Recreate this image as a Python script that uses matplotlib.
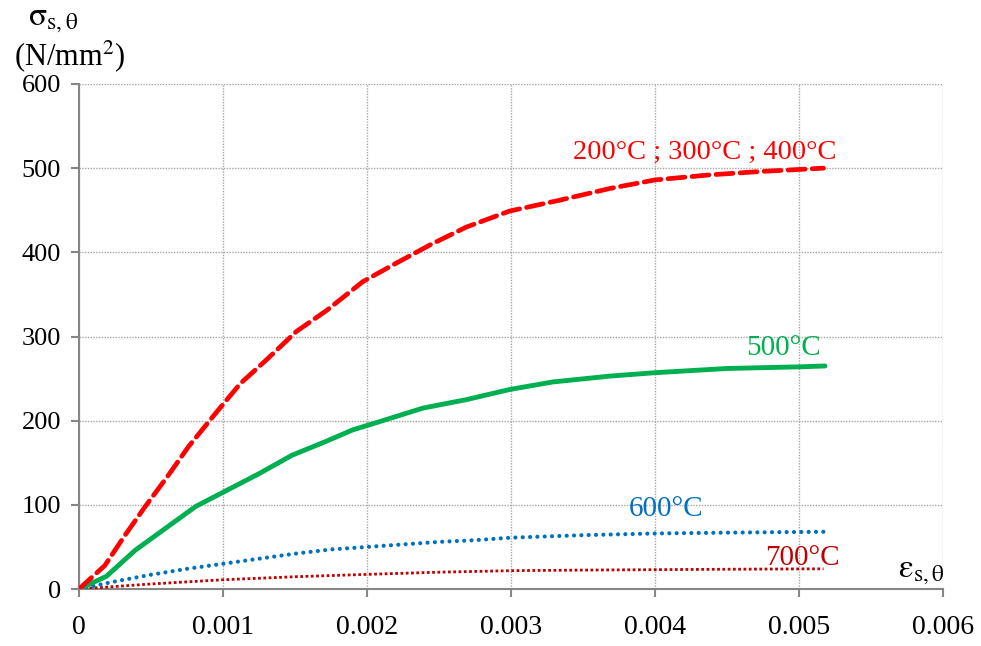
import matplotlib
matplotlib.use("Agg")
import matplotlib.pyplot as plt

# ---- data ----
strain_200_400 = [0, 0.00018, 0.00032, 0.00046, 0.00062, 0.00076, 0.00095, 0.00112, 0.0013,
                  0.00151, 0.00172, 0.00197, 0.00218, 0.00244, 0.00269, 0.00299, 0.00334,
                  0.00369, 0.004, 0.00438, 0.00473, 0.00517]
stress_200_400 = [0, 28, 64, 98, 135, 169, 209, 244, 272, 306, 331, 365, 385, 409, 430, 449,
                  462, 476, 486, 492, 496, 500]

strain_500 = [0, 0.00019, 0.00039, 0.0006, 0.00081, 0.00099, 0.00125, 0.00148, 0.00171,
              0.0019, 0.00209, 0.00239, 0.00269, 0.00299, 0.00329, 0.00369, 0.004, 0.0045,
              0.00501, 0.00518]
stress_500 = [0, 15, 46, 72, 98, 114, 137, 159, 175, 189, 199, 215, 225, 237, 246, 253, 257,
              262, 264, 265]

strain_600 = [0, 0.00025, 0.0005, 0.00075, 0.001, 0.00125, 0.0015, 0.00175, 0.002, 0.00225,
              0.0025, 0.00275, 0.003, 0.0035, 0.004, 0.0045, 0.00517]
stress_600 = [0, 9, 17, 24, 30, 36, 42, 47, 50, 53, 56, 58, 61, 64, 66, 67, 68]

strain_700 = [0, 0.0005, 0.001, 0.0015, 0.002, 0.0025, 0.003, 0.0035, 0.004, 0.0045, 0.00517]
stress_700 = [0, 6, 11, 14.6, 17.4, 20, 21.8, 22.5, 23, 23.5, 24]

x_ticks = [0, 0.001, 0.002, 0.003, 0.004, 0.005, 0.006]
x_tick_labels = ["0", "0.001", "0.002", "0.003", "0.004", "0.005", "0.006"]
y_ticks = [0, 100, 200, 300, 400, 500, 600]

labels = ["200°C ; 300°C ; 400°C", "500°C", "600°C", "700°C"]

# ---- figure ----
plt.rcParams['font.family'] = ['Liberation Serif', 'DejaVu Serif']
plt.rcParams['mathtext.fontset'] = 'stix'
plt.rcParams['mathtext.default'] = 'rm'

fig = plt.figure(figsize=(9.81, 6.46), dpi=100)
ax = fig.add_axes([0.0805, 0.0882, 0.8808, 0.7818])

ax.plot(strain_700, stress_700, color='#C00000', lw=2.0, linestyle=(0, (1.0, 0.9)),
        solid_capstyle='butt', dash_capstyle='butt', zorder=3)
ax.plot(strain_600, stress_600, color='#0070C0', lw=3.0, linestyle=(0, (0.01, 1.75)),
        dash_capstyle='round', zorder=3)
ax.plot(strain_500, stress_500, color='#00B050', lw=3.5, solid_capstyle='round',
        solid_joinstyle='round', zorder=3)
ax.plot(strain_200_400, stress_200_400, color='#FF0000', lw=3.4, linestyle=(0, (3.6, 1.5)),
        dash_capstyle='round', dash_joinstyle='round', zorder=4)

ax.set_xlim(0, 0.006)
ax.set_ylim(0, 600)
ax.set_xticks(x_ticks)
ax.set_xticklabels(x_tick_labels)
ax.set_yticks(y_ticks)

ax.grid(True, color='#A6A6A6', linestyle=(0, (1, 1)), linewidth=1.0)
ax.set_axisbelow(True)

for s in ['top', 'right']:
    ax.spines[s].set_visible(False)
for s in ['left', 'bottom']:
    ax.spines[s].set_color('#868686')
    ax.spines[s].set_linewidth(1.5)

ax.tick_params(axis='both', direction='out', length=6, width=1.5, color='#868686',
               labelcolor='black')
ax.tick_params(axis='x', labelsize=20, pad=13)
ax.tick_params(axis='y', labelsize=19, pad=7)

# curve labels
ax.text(0.00526, 519, labels[0], color='#FF0000', fontsize=20.5, ha='right', va='center')
ax.text(0.00515, 286, labels[1], color='#00B050', fontsize=21, ha='right', va='center')
ax.text(0.00382, 95, labels[2], color='#0070C0', fontsize=21, ha='left', va='center')
ax.text(0.00528, 37, labels[3], color='#C00000', fontsize=21, ha='right', va='center')

# axis labels
ax.text(0.00601, 20, r'$\varepsilon_{\mathrm{s},\theta}$', fontsize=24, ha='right',
        va='center', color='black')
fig.text(0.054, 0.969, r'$\sigma_{\mathrm{s},\theta}$', fontsize=24, ha='center',
         va='center')
fig.text(0.0715, 0.913, r'(N/mm$^{2}$)', fontsize=22, ha='center', va='center')

fig.savefig('out.png', dpi=100)
